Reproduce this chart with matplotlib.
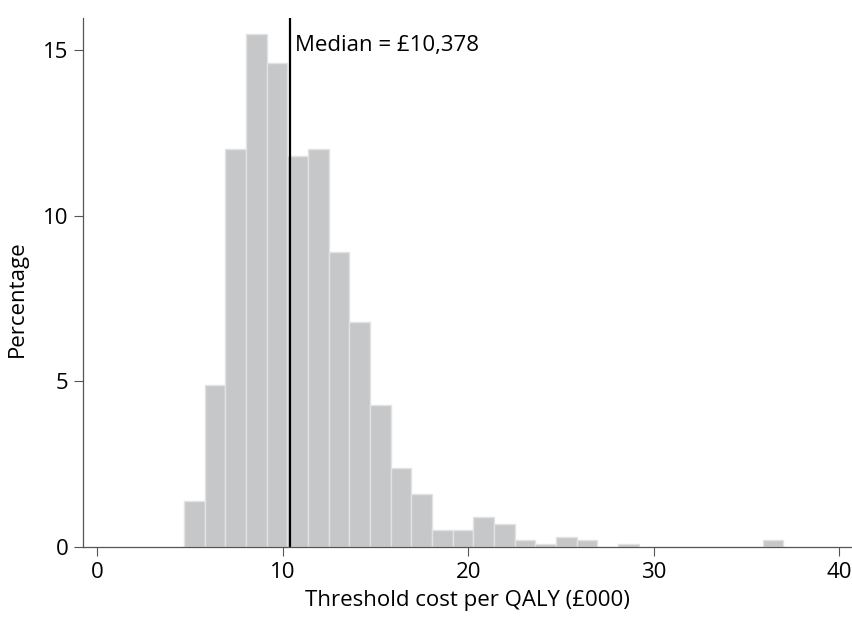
import numpy as np
import matplotlib
matplotlib.use("Agg")
import matplotlib.pyplot as plt

plt.rcParams['font.family'] = ['Open Sans', 'DejaVu Sans']

# histogram of threshold cost per QALY (£000), percentage per bin
bin_start = 4.69
bin_width = 1.1134
percent = [1.4, 4.9, 12.0, 15.5, 14.6, 11.8, 12.0, 8.9, 6.8, 4.3,
           2.4, 1.6, 0.5, 0.5, 0.9, 0.7, 0.2, 0.1, 0.3, 0.2,
           0.0, 0.1, 0.0, 0.0, 0.0, 0.0, 0.0, 0.0, 0.2]
median = 10.378
median_label = "Median = £10,378"
x_ticks = [0, 10, 20, 30, 40]
y_ticks = [0, 5, 10, 15]

edges = bin_start + bin_width * np.arange(len(percent) + 1)

fig = plt.figure(figsize=(8.52, 6.19), dpi=100)
ax = fig.add_axes([0.0974, 0.1163, 0.9026, 0.8547])

ax.bar(edges[:-1], percent, width=bin_width, align='edge',
       color='#c6c7c9', edgecolor='#e2e2e3', linewidth=1.0)
ax.axvline(median, color='black', linewidth=1.6)
ax.text(median + 0.3, 15.15, median_label, fontsize=16, va='center', ha='left')

ax.set_xlim(-0.75, 40.68)
ax.set_ylim(0, 15.97)
ax.set_xticks(x_ticks)
ax.set_yticks(y_ticks)
ax.tick_params(labelsize=16, length=6.5, width=0.8, color='#555555', pad=4)

for s in ['top', 'right']:
    ax.spines[s].set_visible(False)
for s in ['left', 'bottom']:
    ax.spines[s].set_color('#555555')
    ax.spines[s].set_linewidth(0.9)

ax.set_xlabel("Threshold cost per QALY (£000)", fontsize=16, labelpad=5)
ax.set_ylabel("Percentage", fontsize=16)
ax.yaxis.set_label_coords(-0.072, 0.47)

fig.savefig("out.png", dpi=100)
